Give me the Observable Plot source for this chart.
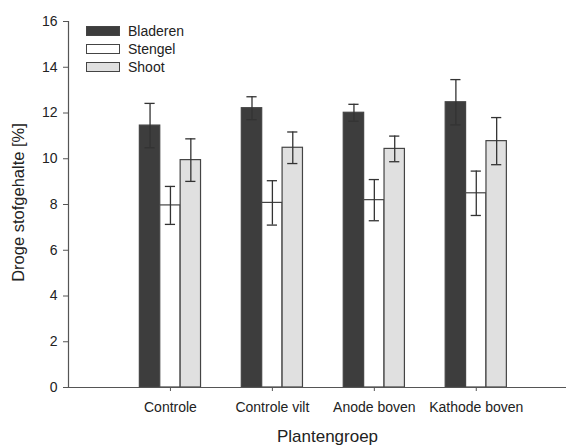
<!DOCTYPE html>
<html>
<head>
<meta charset="utf-8">
<script src="https://cdn.jsdelivr.net/npm/d3@7"></script>
<script src="https://cdn.jsdelivr.net/npm/@observablehq/plot@0.6"></script>
<style>
  html, body { margin: 0; padding: 0; background: #fff; }
  #wrap { position: relative; width: 566px; height: 445px; font-family: "Liberation Sans", Arial, sans-serif; }
  #legend { position: absolute; left: 86px; top: 22px; font-size: 14px; color: #222; }
  .row { display: flex; align-items: center; height: 18px; }
  .sw { width: 32px; height: 8px; border: 1px solid #444; margin-right: 8px; }
</style>
</head>
<body>
<div id="wrap"><div id="legend"></div></div>
<script>
// Plant groups and measured dry-matter content per plant part (mean ± error)
const groups = ["Controle", "Controle vilt", "Anode boven", "Kathode boven"];
const parts = ["Bladeren", "Stengel", "Shoot"];
const bladeren = [11.45, 12.21, 12.01, 12.47];
const bladerenErr = [0.97, 0.50, 0.37, 0.99];
const stengel = [7.96, 8.07, 8.19, 8.49];
const stengelErr = [0.83, 0.97, 0.90, 0.97];
const shoot = [9.94, 10.48, 10.43, 10.77];
const shootErr = [0.93, 0.69, 0.56, 1.03];
const yTicks = [0, 2, 4, 6, 8, 10, 12, 14, 16];

const fills = {Bladeren: "#3d3d3d", Stengel: "#ffffff", Shoot: "#e0e0e0"};
const values = {Bladeren: bladeren, Stengel: stengel, Shoot: shoot};
const errors = {Bladeren: bladerenErr, Stengel: stengelErr, Shoot: shootErr};

// group i sits at x = i + 1; the three parts side by side around it
const barW = 0.2;
const rows = [];
groups.forEach((g, i) => {
  parts.forEach((p, j) => {
    const c = i + 1 + (j - 1) * barW;
    rows.push({group: g, part: p, c, x1: c - barW / 2, x2: c + barW / 2,
      value: values[p][i], lo: values[p][i] - errors[p][i], hi: values[p][i] + errors[p][i]});
  });
});

const chart = Plot.plot({
  width: 566,
  height: 445,
  marginLeft: 68,
  marginTop: 21,
  marginBottom: 58,
  marginRight: 0,
  style: {fontFamily: "'Liberation Sans', Arial, sans-serif", fontSize: "14px", color: "#222", background: "transparent"},
  x: {domain: [0, 4.885]},
  y: {domain: [0, 16]},
  marks: [
    Plot.rectY(rows, {x1: "x1", x2: "x2", y1: 0, y2: "value", fill: d => fills[d.part], stroke: "#444", strokeWidth: 1.2}),
    Plot.ruleX(rows, {x: "c", y1: "lo", y2: "hi", stroke: "#333", strokeWidth: 1.3}),
    Plot.ruleY(rows, {y: "hi", x1: d => d.c - 0.05, x2: d => d.c + 0.05, stroke: "#333", strokeWidth: 1.3}),
    Plot.ruleY(rows, {y: "lo", x1: d => d.c - 0.05, x2: d => d.c + 0.05, stroke: "#333", strokeWidth: 1.3}),
    Plot.ruleX([0], {stroke: "#555", strokeWidth: 1.2}),
    Plot.ruleY([0], {stroke: "#555", strokeWidth: 1.2}),
    Plot.axisY({ticks: yTicks, tickSize: 5, tickPadding: 6, label: null, stroke: "#555"}),
    Plot.axisX({ticks: [1, 2, 3, 4], tickFormat: d => groups[d - 1], tickSize: 4, tickPadding: 11, label: null, stroke: "#555"}),
    Plot.text(["Droge stofgehalte [%]"], {frameAnchor: "left", textAnchor: "middle", rotate: -90, dx: -50, dy: -2, fontSize: 16.5, fill: "#222"}),
    Plot.text(["Plantengroep"], {frameAnchor: "bottom", dy: 54, dx: 10, fontSize: 17, fill: "#222"})
  ]
});
document.getElementById("wrap").prepend(chart);

// legend inside the plot area
const legend = d3.select("#legend");
parts.forEach(p => {
  const row = legend.append("div").attr("class", "row");
  row.append("div").attr("class", "sw").style("background", fills[p]);
  row.append("span").text(p);
});
</script>
</body>
</html>
